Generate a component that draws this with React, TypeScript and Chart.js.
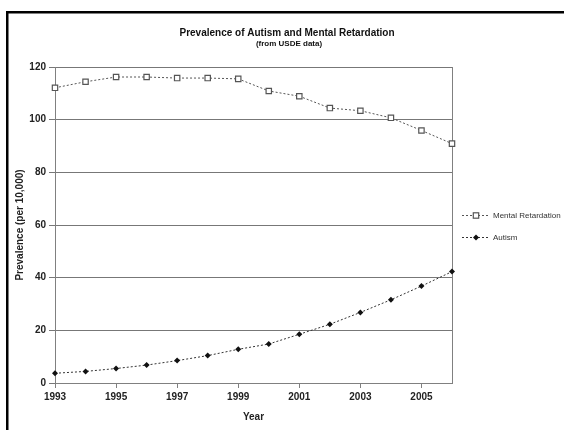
import React, { useEffect, useRef } from "react";
import { Chart, registerables } from "chart.js";

Chart.register(...registerables);

const years = [1993, 1994, 1995, 1996, 1997, 1998, 1999, 2000, 2001, 2002, 2003, 2004, 2005, 2006];
const mentalRetardation = [112.1, 114.4, 116.2, 116.2, 115.8, 115.8, 115.5, 110.9, 108.9, 104.4, 103.4, 100.7, 95.9, 90.9];
const autism = [3.7, 4.4, 5.5, 6.8, 8.5, 10.4, 12.8, 14.8, 18.5, 22.3, 26.8, 31.6, 36.8, 42.3];
const seriesNames = ["Mental Retardation", "Autism"];
const yMin = 0;
const yMax = 120;
const yStep = 20;
const titleText = "Prevalence of Autism and Mental Retardation";
const subtitleText = "(from USDE data)";
const xTitle = "Year";
const yTitle = "Prevalence (per 10,000)";

const FONT = "'Liberation Sans', Arial, sans-serif";

const decorPlugin = {
  id: "decor",
  beforeDatasetsDraw(chart: any) {
    const { ctx, chartArea } = chart;
    ctx.save();
    ctx.strokeStyle = "#808080";
    ctx.lineWidth = 1;
    const x = Math.round(chartArea.right) + 0.5;
    ctx.beginPath();
    ctx.moveTo(x, chartArea.top);
    ctx.lineTo(x, chartArea.bottom);
    ctx.stroke();
    ctx.restore();
  },
  afterDraw(chart: any) {
    const { ctx } = chart;
    ctx.save();
    // outer frame (top & left)
    ctx.fillStyle = "#000";
    ctx.fillRect(6, 11, 558, 2.5);
    ctx.fillRect(6, 11, 2.5, 419);

    // title & subtitle
    ctx.fillStyle = "#111";
    ctx.textAlign = "center";
    ctx.textBaseline = "middle";
    ctx.font = `bold 10px ${FONT}`;
    ctx.fillText(titleText, 287, 33);
    ctx.font = `bold 8px ${FONT}`;
    ctx.fillText(subtitleText, 289, 44);

    // legend
    const entries = chart.data.datasets.map((ds: any, i: number) => ({ ds, y: 215 + i * 22 }));
    for (const { ds, y } of entries) {
      ctx.strokeStyle = ds.borderColor;
      ctx.lineWidth = 1;
      ctx.setLineDash([2, 2]);
      ctx.beginPath();
      ctx.moveTo(462, y + 0.5);
      ctx.lineTo(490, y + 0.5);
      ctx.stroke();
      ctx.setLineDash([]);
      const cx = 476;
      if (ds.pointStyle === "rect") {
        ctx.fillStyle = ds.pointBackgroundColor;
        ctx.strokeStyle = ds.pointBorderColor;
        ctx.lineWidth = 1.2;
        ctx.fillRect(cx - 2.7, y - 2.2, 5.4, 5.4);
        ctx.strokeRect(cx - 2.7, y - 2.2, 5.4, 5.4);
      } else {
        ctx.fillStyle = ds.pointBackgroundColor;
        ctx.beginPath();
        ctx.moveTo(cx, y + 0.5 - 3);
        ctx.lineTo(cx + 3, y + 0.5);
        ctx.lineTo(cx, y + 0.5 + 3);
        ctx.lineTo(cx - 3, y + 0.5);
        ctx.closePath();
        ctx.fill();
      }
      ctx.fillStyle = "#333";
      ctx.textAlign = "left";
      ctx.textBaseline = "middle";
      ctx.font = `8px ${FONT}`;
      ctx.fillText(ds.label, 493, y + 1);
    }
    ctx.restore();
  },
};

export default function App() {
  const canvasRef = useRef<HTMLCanvasElement | null>(null);

  useEffect(() => {
    const canvas = canvasRef.current;
    if (!canvas) return;
    const chart = new Chart(canvas, {
      type: "line",
      data: {
        labels: years.map(String),
        datasets: [
          {
            label: seriesNames[0],
            data: mentalRetardation,
            borderColor: "#555",
            borderWidth: 1,
            borderDash: [2, 2],
            pointStyle: "rect",
            pointRadius: 3.8,
            pointBorderWidth: 1.2,
            pointBackgroundColor: "#fff",
            pointBorderColor: "#555",
            tension: 0,
            fill: false,
          },
          {
            label: seriesNames[1],
            data: autism,
            borderColor: "#333",
            borderWidth: 1,
            borderDash: [2, 2],
            pointStyle: "rectRot",
            pointRadius: 3,
            pointBorderWidth: 0,
            pointBackgroundColor: "#111",
            pointBorderColor: "#111",
            tension: 0,
            fill: false,
          },
        ],
      },
      options: {
        responsive: false,
        animation: false,
        devicePixelRatio: 1,
        layout: { padding: { left: 0, top: 67, right: 112, bottom: 0 } },
        plugins: {
          legend: { display: false },
          title: { display: false },
          tooltip: { enabled: false },
        },
        scales: {
          x: {
            type: "category",
            offset: false,
            grid: {
              display: true,
              drawOnChartArea: false,
              drawTicks: true,
              tickLength: 5,
              color: "#808080",
            },
            border: { display: true, color: "#808080" },
            ticks: {
              autoSkip: false,
              maxRotation: 0,
              padding: 3,
              color: "#222",
              font: { family: FONT, size: 10, weight: "bold" },
              callback: (_v: any, i: number) => (years[i] % 2 === 1 ? String(years[i]) : null),
            },
            title: {
              display: true,
              text: xTitle,
              color: "#222",
              font: { family: FONT, size: 10, weight: "bold" },
              padding: { top: 0, bottom: 7 },
            },
            afterFit: (scale: any) => {
              scale.height = 47;
            },
          },
          y: {
            min: yMin,
            max: yMax,
            grid: {
              display: true,
              drawOnChartArea: true,
              drawTicks: true,
              tickLength: 6,
              color: "#777",
            },
            border: { display: true, color: "#808080" },
            ticks: {
              stepSize: yStep,
              padding: 3,
              color: "#222",
              font: { family: FONT, size: 10, weight: "bold" },
            },
            title: {
              display: true,
              text: yTitle,
              color: "#222",
              font: { family: FONT, size: 10, weight: "bold" },
              padding: { top: 14, bottom: 0 },
            },
            afterFit: (scale: any) => {
              scale.width = 55;
            },
          },
        },
      },
      plugins: [decorPlugin],
    });
    return () => chart.destroy();
  }, []);

  return (
    <div style={{ position: "absolute", left: 0, top: 0, width: 564, height: 430, background: "#fff" }}>
      <canvas ref={canvasRef} width={564} height={430} style={{ width: 564, height: 430, display: "block" }} />
    </div>
  );
}
